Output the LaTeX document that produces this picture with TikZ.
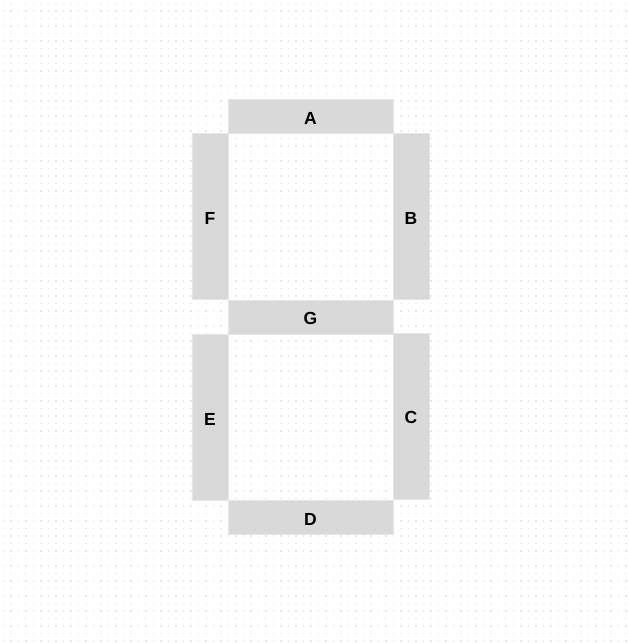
\documentclass[tikz,border=0pt]{standalone}
\usepackage{fontspec}
\setmainfont{Liberation Sans}
\usepackage{tikz}
\usepackage{xcolor}
\definecolor{segfill}{HTML}{D9D9D9}
\definecolor{segline}{HTML}{E6E6E6}
\definecolor{griddot}{HTML}{E8E8E8}
\tikzset{
    seg-h/.style = {draw=segline, fill=segfill, rectangle, inner sep=0pt, minimum width=165pt, minimum height=34pt, text height=16pt, font=\fontsize{17.5}{20}\selectfont\bfseries},
    seg-v/.style = {draw=segline, fill=segfill, rectangle, inner sep=0pt, minimum width=36pt, minimum height=166pt, text height=16pt, font=\fontsize{17.5}{20}\selectfont\bfseries},
}

\begin{document}
\begin{tikzpicture}[x=1pt, y=-1pt]
\fill[white] (0,0) rectangle (629,643);
\useasboundingbox (0,0) rectangle (629,643);
% dotted background
\foreach \row in {0,...,85}
    \draw[griddot, line width=1.5pt, dash pattern=on 1.5pt off 6pt] (2.5,3.3+7.5*\row) -- (629,3.3+7.5*\row);

\node[seg-h] (segA) at (310.5,116) {A};
\node[seg-v] (segF) at (210,216) {F};
\node[seg-v] (segB) at (411,216) {B};
\node[seg-h] (segG) at (310.5,317) {G};
\node[seg-v] (segE) at (210,417) {E};
\node[seg-v] (segC) at (411,416) {C};
\node[seg-h] (segD) at (310.5,517) {D};
\end{tikzpicture}
\end{document}
